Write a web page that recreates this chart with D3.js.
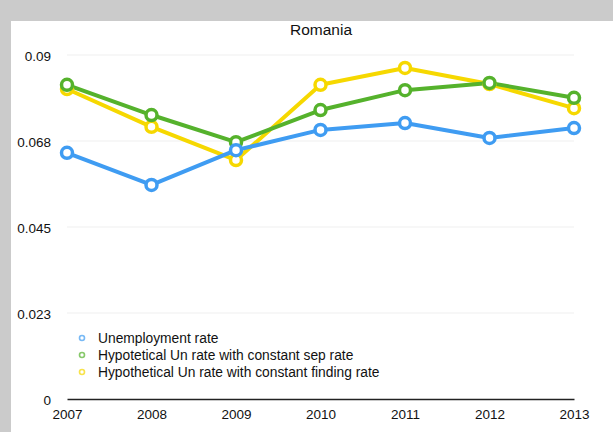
<!DOCTYPE html>
<html>
<head>
<meta charset="utf-8">
<script src="https://cdn.jsdelivr.net/npm/d3@7/dist/d3.min.js"></script>
<style>
  html, body { margin: 0; padding: 0; background: #cbcbcb; }
  svg { display: block; }
  text { font-family: "Liberation Sans", Arial, Helvetica, sans-serif; fill: #111; }
</style>
</head>
<body>
<svg id="chart" width="613" height="432"></svg>
<script>
// Romania: actual vs. hypothetical unemployment rates
const years = [2007, 2008, 2009, 2010, 2011, 2012, 2013];
const unemployment = [0.0644, 0.0560, 0.0651, 0.0704, 0.0722, 0.0683, 0.0709];
const constSepRate = [0.0822, 0.0743, 0.0672, 0.0756, 0.0808, 0.0827, 0.0788];
const constFindingRate = [0.0811, 0.0712, 0.0625, 0.0822, 0.0866, 0.0824, 0.0761];
const yTickValues = [0, 0.0225, 0.045, 0.0675, 0.09];
const yTickLabels = ["0", "0.023", "0.045", "0.068", "0.09"];
const seriesNames = [
  "Unemployment rate",
  "Hypotetical Un rate with constant sep rate",
  "Hypothetical Un rate with constant finding rate"
];
const seriesColors = ["#3f9cf2", "#55b22c", "#f6d800"];

const svg = d3.select("#chart");

// white plotting panel
svg.append("rect").attr("x", 11).attr("y", 21).attr("width", 602).attr("height", 411).attr("fill", "#ffffff");

const x = d3.scalePoint().domain(years).range([67, 574]);
const y = d3.scaleLinear().domain([0, 0.09]).range([399, 55]);

// title
svg.append("text").attr("x", 321).attr("y", 35).attr("text-anchor", "middle")
  .style("font-size", "15.5px").text("Romania");

// faint horizontal grid
svg.append("g").selectAll("line").data(yTickValues.slice(1)).join("line")
  .attr("x1", 67).attr("x2", 574)
  .attr("y1", d => y(d)).attr("y2", d => y(d))
  .attr("stroke", "#f0f0f0").attr("stroke-width", 1.2);

// y axis labels
const yAxis = d3.axisLeft(y).tickValues(yTickValues)
  .tickFormat((d, i) => yTickLabels[i]).tickSize(0).tickPadding(0);
const yg = svg.append("g").attr("transform", "translate(51,0)").call(yAxis);
yg.select(".domain").remove();
yg.selectAll("text").style("font-size", "13.5px").attr("font-family", null)
  .attr("dy", "0.32em").attr("y", 1);

// x axis
const xAxis = d3.axisBottom(x).tickSize(0).tickPadding(10);
const xg = svg.append("g").attr("transform", `translate(0,${y(0)})`).call(xAxis);
xg.select(".domain").attr("stroke", "#222").attr("stroke-width", 1.5);
xg.selectAll("text").style("font-size", "13.5px").attr("font-family", null);

// series
const series = [unemployment, constSepRate, constFindingRate];
const line = d3.line().x((d, i) => x(years[i])).y(d => y(d));
const order = [2, 1, 0];
order.forEach(k => {
  svg.append("path").datum(series[k])
    .attr("d", line).attr("fill", "none")
    .attr("stroke", seriesColors[k]).attr("stroke-width", 4)
    .attr("stroke-linejoin", "round");
});
order.forEach(k => {
  svg.append("g").selectAll("circle").data(series[k]).join("circle")
    .attr("cx", (d, i) => x(years[i])).attr("cy", d => y(d)).attr("r", 5.5)
    .attr("fill", "#ffffff").attr("stroke", seriesColors[k]).attr("stroke-width", 3.5);
});

// legend
const legend = svg.append("g").attr("transform", "translate(82,338)");
seriesNames.forEach((name, i) => {
  const row = legend.append("g").attr("transform", `translate(0,${i * 17})`);
  row.append("circle").attr("cx", 0).attr("cy", 0).attr("r", 2.5)
    .attr("fill", "#fff").attr("stroke", seriesColors[i]).attr("stroke-width", 1.6)
    .attr("opacity", 0.7);
  row.append("text").attr("x", 16).attr("y", 0).attr("dy", "0.35em")
    .style("font-size", "13.8px").text(name);
});
</script>
</body>
</html>
